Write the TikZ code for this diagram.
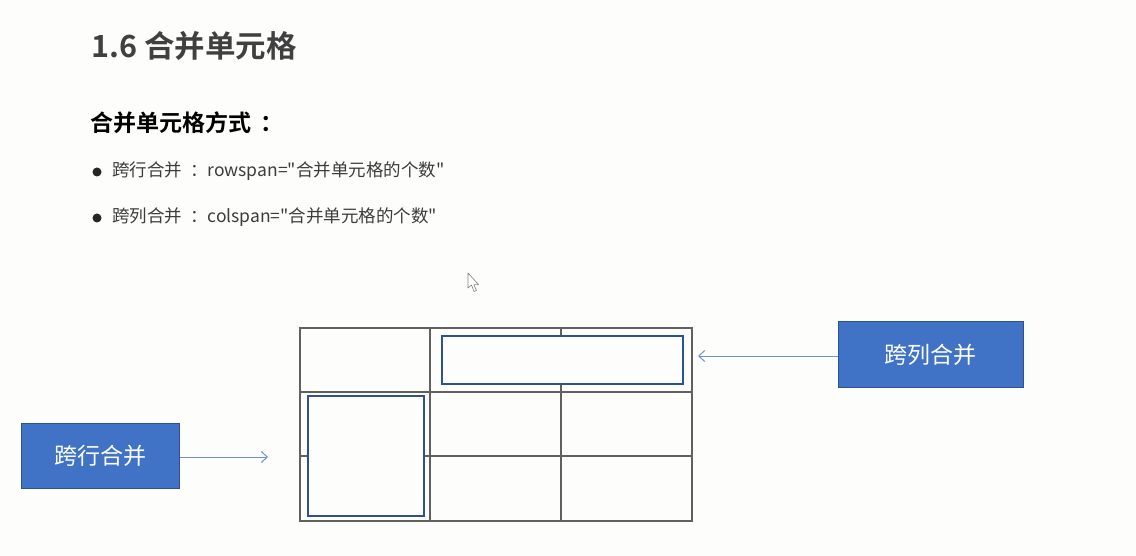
\documentclass[tikz,border=0pt]{standalone}
\usepackage{fontspec}
\setmainfont{Noto Sans CJK SC}
\newfontfamily\cjk{Noto Sans CJK SC}
\newfontfamily\cjkbold{Noto Sans CJK SC Bold}
\usetikzlibrary{arrows.meta}
\definecolor{bg}{RGB}{253,254,252}
\definecolor{titlegray}{RGB}{64,64,64}
\definecolor{textgray}{RGB}{60,60,60}
\definecolor{gridgray}{RGB}{96,96,96}
\definecolor{mergeblue}{RGB}{47,82,143}
\definecolor{boxfill}{RGB}{64,114,198}
\definecolor{boxedge}{RGB}{47,82,143}
\definecolor{arrowblue}{RGB}{110,146,206}
\tikzset{
  titletext/.style={anchor=west, inner sep=0pt, text=titlegray, font=\cjkbold\fontsize{30.5}{33}\selectfont},
  headtext/.style={anchor=west, inner sep=0pt, text=black, font=\cjkbold\fontsize{23}{26}\selectfont},
  bullettext/.style={anchor=west, inner sep=0pt, text=textgray, font=\cjk\fontsize{17.5}{20}\selectfont},
  bulletdot/.style={circle, fill=black!85, inner sep=0pt, minimum size=9pt},
  gridline/.style={draw=gridgray, line width=1.4pt},
  mergebox/.style={draw=mergeblue, line width=1.8pt},
  labelbox/.style={draw=boxedge, line width=1pt, fill=boxfill, text=white, inner sep=0pt, font=\cjk\fontsize{23}{26}\selectfont},
  pointer/.style={draw=arrowblue, line width=1pt, -{Straight Barb[length=6pt, width=11pt, line width=1pt]}}
}
\begin{document}
\begin{tikzpicture}[x=1pt, y=-1pt]
\useasboundingbox (0,0) rectangle (1136,556);
\fill[bg] (0,0) rectangle (1136,556);

% title and heading
\node[titletext] (title) at (91,46) {1.6 合并单元格};
\node[headtext] (head) at (90,123) {合并单元格方式\kern0.4em：};

% bullets
\node[bulletdot] (b1) at (97,172) {};
\node[bullettext] (t1) at (112,171) {跨行合并\kern0.45em：rowspan="合并单元格的个数"};
\node[bulletdot] (b2) at (97,218) {};
\node[bullettext] (t2) at (112,217) {跨列合并\kern0.45em：colspan="合并单元格的个数"};

% mouse cursor
\draw[draw=gray, fill=white, line width=0.6pt, line join=round]
  (468,273) -- (468,288) -- (471.5,285) -- (474,291.5) -- (476.5,290.5) -- (473.8,284.6) -- (478.5,284.6) -- cycle;

% table grid
\coordinate (tl) at (300,328);
\coordinate (br) at (692,521);
\draw[gridline] (tl) rectangle (br);
\draw[gridline] (430,328) -- (430,521);
\draw[gridline] (561,328) -- (561,521);
\draw[gridline] (300,392) -- (692,392);
\draw[gridline] (300,456) -- (692,456);

% merged cells
\fill[bg] (442,336) rectangle (683,384);
\fill[bg] (308,396) rectangle (424,516);
\draw[mergebox] (442,336) rectangle (683,384);
\draw[mergebox] (308,396) rectangle (424,516);
\coordinate (colend) at (698,356);
\coordinate (rowend) at (268,457);

% label boxes
\node[labelbox, minimum width=158pt, minimum height=65pt] (rowbox) at (100,456) {跨行合并};
\node[labelbox, minimum width=185pt, minimum height=65pt] (colbox) at (930.5,354.5) {跨列合并};

% arrows
\draw[pointer] (rowbox.east |- rowend) -- (rowend);
\draw[pointer] (colbox.west |- colend) -- (colend);
\end{tikzpicture}
\end{document}
